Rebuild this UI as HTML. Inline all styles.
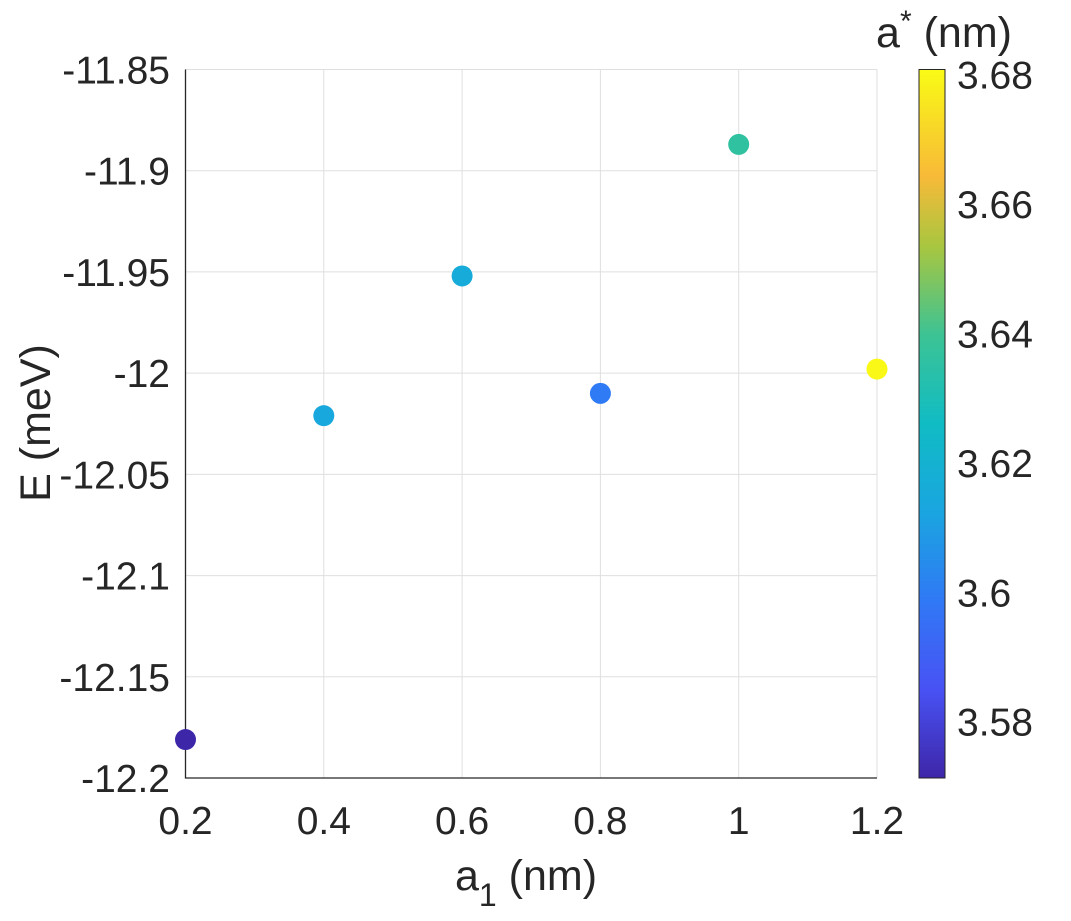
<!DOCTYPE html>
<html><head><meta charset="utf-8"><style>body{margin:0;background:#fff}svg text{font-family:"Liberation Sans",Arial,sans-serif;fill:#262626}</style></head>
<body>
<svg id="chart" width="1071" height="916" xmlns="http://www.w3.org/2000/svg">
<defs><linearGradient id="parula" x1="0" y1="1" x2="0" y2="0">
<stop offset="0" stop-color="#3e26a8"/><stop offset="0.125" stop-color="#4852f4"/><stop offset="0.25" stop-color="#3079f5"/><stop offset="0.375" stop-color="#1aa5e0"/><stop offset="0.5" stop-color="#10bcc4"/><stop offset="0.625" stop-color="#3cc394"/><stop offset="0.75" stop-color="#a8c640"/><stop offset="0.85" stop-color="#f8ba38"/><stop offset="1" stop-color="#f9fb15"/>
</linearGradient></defs>
<g id="grid"></g>
<g id="axes"></g>
<g id="points"></g>
<g id="cbar"></g>
</svg>
<script>
const xVals=[0.2,0.4,0.6,0.8,1.0,1.2];
const yVals=[-12.181,-12.021,-11.952,-12.010,-11.887,-11.998];
const cVals=[3.571,3.614,3.616,3.599,3.636,3.680];
const xTicks=[0.2,0.4,0.6,0.8,1,1.2];
const yTicks=[-11.85,-11.9,-11.95,-12,-12.05,-12.1,-12.15,-12.2];
const cTicks=[3.58,3.6,3.62,3.64,3.66,3.68];
const NS='http://www.w3.org/2000/svg';
const L=185.5,R=877,T=69.5,B=778;
const X=v=>L+(v-0.2)/1.0*(R-L);
const Y=v=>T+(-11.85-v)/0.35*(B-T);
const cMin=3.5713,cMax=3.6808;
const CY=v=>B-(v-cMin)/(cMax-cMin)*(B-T);
const offs=[0,0.125,0.25,0.375,0.5,0.625,0.75,0.85,1];
const stops=[[62,38,168],[72,82,244],[48,121,245],[26,165,224],[16,188,196],[60,195,148],[168,198,64],[248,186,56],[249,251,21]];
function cmap(v){const t=Math.max(0,Math.min(1,(v-cMin)/(cMax-cMin)));let i=0;while(i<offs.length-2&&t>offs[i+1])i++;const f=(t-offs[i])/(offs[i+1]-offs[i]);const c=stops[i].map((a,k)=>Math.round(a+(stops[i+1][k]-a)*f));return `rgb(${c})`;}
function mk(tag,attrs,parent,txt){const e=document.createElementNS(NS,tag);for(const k in attrs)e.setAttribute(k,attrs[k]);if(txt!==undefined)e.textContent=txt;document.getElementById(parent).appendChild(e);return e;}
xTicks.forEach(v=>{const g=mk('line',{x1:X(v),x2:X(v),y1:T,y2:B,stroke:'#dfdfdf','stroke-width':1},'grid');


const t=mk('text',{x:X(v),y:834,'font-size':39,'text-anchor':'middle'},'axes',String(v));

});
yTicks.forEach(v=>{const g=mk('line',{x1:L,x2:R,y1:Y(v),y2:Y(v),stroke:'#dfdfdf','stroke-width':1},'grid');


const t=mk('text',{x:170,y:Y(v)+14,'font-size':39,'text-anchor':'end'},'axes',String(v));

});
const ax=mk('path',{d:`M${L},${T}V${B}H${R}`,fill:'none',stroke:'#262626','stroke-width':1.3},'axes');


const xl=mk('text',{x:526,y:890,'font-size':43,'text-anchor':'middle'},'axes');
xl.innerHTML='a<tspan font-size="32" dy="16">1</tspan><tspan dy="-16"> (nm)</tspan>';


const yl=mk('text',{x:0,y:0,'font-size':43,'text-anchor':'middle',transform:'translate(50,423) rotate(-90)'},'axes','E (meV)');


xVals.forEach((v,i)=>{const c=mk('circle',{cx:X(v),cy:Y(yVals[i]),r:10.5,fill:cmap(cVals[i])},'points');

});
const cb=mk('rect',{x:919,y:T,width:26,height:B-T,fill:'url(#parula)',stroke:'#262626','stroke-width':1},'cbar');


cTicks.forEach(v=>{const t=mk('text',{x:957,y:CY(v)+14,'font-size':39},'cbar',String(v));

});
const ct=mk('text',{x:944,y:47,'font-size':43,'text-anchor':'middle'},'cbar');
ct.innerHTML='a<tspan font-size="30" dy="-16">*</tspan><tspan dy="16"> (nm)</tspan>';


</script>
</body></html>
